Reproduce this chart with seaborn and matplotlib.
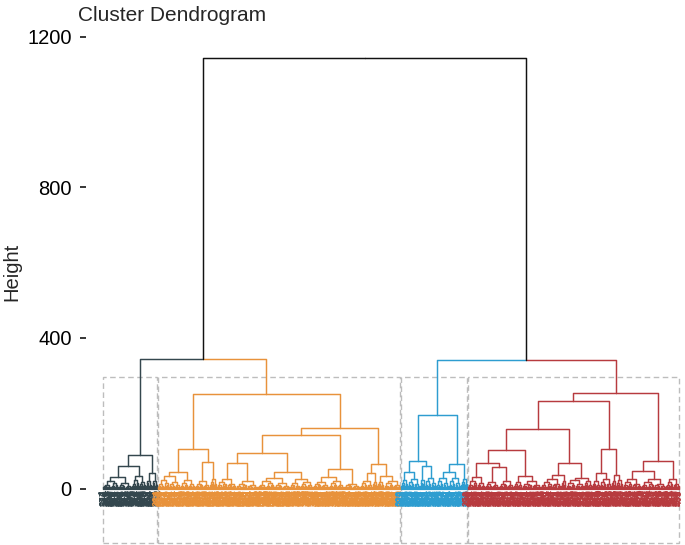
import pandas as pd
import matplotlib
matplotlib.use("Agg")
import matplotlib.pyplot as plt
from matplotlib.patches import Rectangle
import seaborn as sns

# merge heights above the four clusters
ROOT_HEIGHT = 1142
LEFT_HEIGHT = 343
RIGHT_HEIGHT = 340
RECT_TOP = 296
RECT_BOTTOM = -146

cluster_names = ["dark", "orange", "blue", "red"]
cluster_colors = ["#34474E", "#E8923B", "#2E9DD0", "#B73B3F"]

# cluster trees: [height, left, right]; (n_leaves, height) = small leaf clump
dark_tree = [88, [59, (29, 30), (14, 33)], [42, (6, 20), (6, 20)]]
orange_tree = [250,
               [104, [43, (22, 32), (15, 22)], [70, (15, 19), (7, 24)]],
               [160,
                [143,
                 [95, [68, (19, 26), (22, 19)], [44, (32, 29), [24, (10, 15), (13, 16)]]],
                 [52, [30, (16, 18), (15, 20)], (16, 13)]],
                [66, [41, (13, 20), (4, 16)], [32, (7, 18), (17, 20)]]]]
blue_tree = [194,
             [74, [45, (7, 22), (12, 24)], [59, (5, 22), (11, 28)]],
             [66, [45, (13, 28), (12, 28)], (7, 24)]]
red_tree = [254,
            [232,
             [159,
              [102, [68, (17, 31), [56, (14, 16), (15, 19)]], [33, (8, 16), (19, 19)]],
              [68, [37, (21, 24), (4, 20)], [29, (18, 22), (8, 20)]]],
             [104, [41, (8, 19), (12, 24)], [37, (4, 20), (7, 22)]]],
            [72, [46, (18, 24), (25, 26)], (14, 26)]]

y_ticks = [0, 400, 800, 1200]

rows = []


def add_path(pts, grp):
    seg = len(rows)
    for x, y in pts:
        rows.append({"seg": seg, "x": x, "y": y, "grp": grp})


def merge(a, b, h, grp_a, grp_b):
    xm = (a[0] + b[0]) / 2
    add_path([(a[0], a[1]), (a[0], h), (xm, h)], grp_a)
    add_path([(b[0], b[1]), (b[0], h), (xm, h)], grp_b)
    return xm, h


def clump(start, n, h, grp, flip):
    if n == 1:
        return float(start), 0.0
    nl = (n + 1) // 2
    hi, lo = (h * 0.5, h * 0.68) if flip else (h * 0.68, h * 0.5)
    a = clump(start, nl, hi, grp, not flip)
    b = clump(start + nl, n - nl, lo, grp, flip)
    return merge(a, b, h, grp, grp)


def build(tree, start, grp):
    if isinstance(tree, tuple):
        n, h = tree
        return clump(start, n, h, grp, False), n
    h, left, right = tree
    a, nl = build(left, start, grp)
    b, nr = build(right, start + nl, grp)
    return merge(a, b, h, grp, grp), nl + nr


tops, bounds = [], []
start = 0
for tree, name in zip([dark_tree, orange_tree, blue_tree, red_tree], cluster_names):
    top, n = build(tree, start, name)
    tops.append(top)
    bounds.append((start, start + n - 1))
    start += n
n_leaves = start

left = merge(tops[0], tops[1], LEFT_HEIGHT, "dark", "orange")
right = merge(tops[2], tops[3], RIGHT_HEIGHT, "blue", "red")
merge(left, right, ROOT_HEIGHT, "root", "root")

df = pd.DataFrame(rows)
palette = dict(zip(cluster_names, cluster_colors))
palette["root"] = "#111111"

sns.set_theme(style="white")
plt.rcParams["font.family"] = ["Liberation Sans", "DejaVu Sans"]

fig = plt.figure(figsize=(6.85, 5.45), dpi=100)
ax = fig.add_axes([86 / 685, 0.0, 599 / 685, 516 / 545])

sns.lineplot(data=df, x="x", y="y", hue="grp", units="seg", estimator=None,
             sort=False, palette=palette, linewidth=1.05, legend=False, ax=ax)

# leaf labels
for (lo, hi), col in zip(bounds, cluster_colors):
    for i in range(lo, hi + 1):
        ax.text(i, -2, str((i * 173) % n_leaves + 1), rotation=90, ha="center",
                va="top", fontsize=7, fontweight="bold", color=col)

# cluster rectangles
for lo, hi in bounds:
    ax.add_patch(Rectangle((lo - 0.4, RECT_BOTTOM), hi - lo + 0.8, RECT_TOP - RECT_BOTTOM,
                           fill=False, edgecolor="#BDBDBD", linewidth=1.0,
                           linestyle=(0, (4, 2.5))))

ax.set_xlim(-17, 582)
ax.set_ylim(-150, 1220)
ax.set_xticks([])
ax.set_yticks(y_ticks)
ax.set_yticklabels([str(t) for t in y_ticks])
ax.tick_params(axis="y", left=True, length=4.3, width=1.1, pad=6,
               labelsize=14.5, colors="black")
ax.set_xlabel("")
ax.set_ylabel("")
for s in ax.spines.values():
    s.set_visible(False)

fig.text(78 / 685, 1 - 20.7 / 545, "Cluster Dendrogram", fontsize=15,
         ha="left", va="baseline")
fig.text(12 / 685, 1 - 272 / 545, "Height", fontsize=14.5, rotation=90,
         ha="center", va="center")

fig.savefig("out.png", dpi=100)
